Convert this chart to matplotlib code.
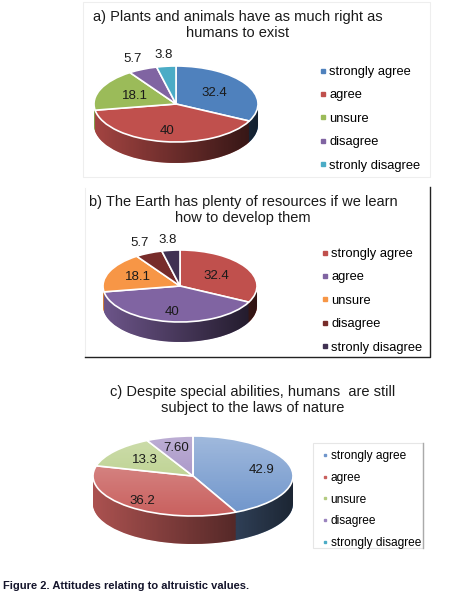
import numpy as np
import matplotlib
matplotlib.use('Agg')
import matplotlib.pyplot as plt
from matplotlib.lines import Line2D
from matplotlib.patches import PathPatch, Ellipse, Rectangle
from matplotlib.path import Path

plt.rcParams['font.family'] = ['Liberation Sans', 'DejaVu Sans']

# ---- data ----
cats_ab = ['strongly agree', 'agree', 'unsure', 'disagree', 'stronly disagree']
vals_a = [32.4, 40, 18.1, 5.7, 3.8]
labels_a = ['32.4', '40', '18.1', '5.7', '3.8']
title_a = 'a) Plants and animals have as much right as\nhumans to exist'

vals_b = [32.4, 40, 18.1, 5.7, 3.8]
labels_b = ['32.4', '40', '18.1', '5.7', '3.8']
title_b = 'b) The Earth has plenty of resources if we learn\nhow to develop them'

cats_c = ['strongly agree', 'agree', 'unsure', 'disagree', 'strongly disagree']
vals_c = [42.9, 36.2, 13.3, 7.60, 0]
labels_c = ['42.9', '36.2', '13.3', '7.60', '']
title_c = 'c) Despite special abilities, humans  are still\nsubject to the laws of nature'

caption = 'Figure 2. Attitudes relating to altruistic values.'

# ---- styles ----
colors_a = ['#4F81BD', '#C0504D', '#9BBB59', '#8064A2', '#4BACC6']
colors_b = ['#C0504D', '#8064A2', '#F79646', '#772C2A', '#403152']
colors_c = ['#6F95CB', '#C9605E', '#B3CB80', '#9A84BE', '#4BACC6']

W, H = 450, 600
fig = plt.figure(figsize=(4.5, 6), dpi=100)
fig.patch.set_facecolor('white')


def px_axes(left, top, w, h):
    return fig.add_axes([left / W, 1 - (top + h) / H, w / W, h / H])


def pie3d(cx, cy, rx, ry, depth, vals, colors, labels, lab_r, top_grad=False):
    d = depth / ry
    pad = 0.04
    ax = px_axes(cx - rx * (1 + pad), cy - ry * (1 + pad), 2 * rx * (1 + pad),
                 ry * (2 + d + 2 * pad))
    # side: stacked layers
    for z in np.linspace(d, 0.0, 40):
        ax.pie(vals, colors=colors, startangle=90, counterclock=False,
               center=(0, -z), radius=1, wedgeprops=dict(linewidth=0))
    # shading of side
    t = np.linspace(np.pi, 2 * np.pi, 100)
    xs = np.concatenate([np.cos(t), np.cos(t[::-1])])
    ys = np.concatenate([np.sin(t) - d, np.sin(t[::-1])])
    side = PathPatch(Path(np.column_stack([xs, ys])), transform=ax.transData,
                     facecolor='none', edgecolor='none')
    ax.add_patch(side)
    grad = np.linspace(0.15, 0.75, 256).reshape(1, -1)
    img = np.zeros((1, 256, 4))
    img[..., 3] = grad
    im = ax.imshow(img, extent=[-1, 1, -1 - d, 0.2], aspect='auto', zorder=3)
    im.set_clip_path(side)
    # top
    wedges, _ = ax.pie(vals, colors=colors, startangle=90, counterclock=False,
                       center=(0, 0), radius=1,
                       wedgeprops=dict(linewidth=1.2, edgecolor='white', zorder=4))
    for w in wedges:
        w.set_zorder(4)
    if top_grad:
        ell = Ellipse((0, 0), 2, 2, transform=ax.transData, facecolor='none',
                      edgecolor='none')
        ax.add_patch(ell)
        g = np.zeros((256, 1, 4))
        g[..., :3] = 1.0
        g[..., 3] = np.linspace(0.0, 0.35, 256).reshape(-1, 1)
        im2 = ax.imshow(g, extent=[-1, 1, 1, -1], aspect='auto', zorder=5)
        im2.set_clip_path(ell)
    for w, lab, r in zip(wedges, labels, lab_r):
        if not lab:
            continue
        mid = np.deg2rad((w.theta1 + w.theta2) / 2)
        ax.text(r * np.cos(mid), r * np.sin(mid), lab, ha='center', va='center',
                fontsize=9.5, color='#1a1a1a', zorder=6)
    ax.set_xlim(-1 - pad, 1 + pad)
    ax.set_ylim(-1 - d - pad, 1 + pad)
    ax.set_aspect('auto')
    ax.axis('off')
    return ax


def legend_at(x, y, cats, colors, ms, spacing, fs=9.3):
    handles = [Line2D([], [], linestyle='none', marker='s', markersize=ms,
                      markerfacecolor=c, markeredgecolor=c) for c in colors]
    fig.legend(handles, cats, loc='upper left', bbox_to_anchor=(x / W, 1 - y / H),
               frameon=False, fontsize=fs, handlelength=0.6, handletextpad=0.2,
               labelspacing=spacing, borderpad=0, borderaxespad=0)


# ---- panel a ----
fig.add_artist(Rectangle((83 / W, 1 - 177 / H), 347 / W, 175 / H, fill=False,
                         edgecolor='#eeeeee', linewidth=0.8, transform=fig.transFigure))
fig.text(238 / W, 1 - 25 / H, title_a, ha='center', va='center', fontsize=10.5,
         linespacing=1.15, color='#1a1a1a')
pie3d(176, 104, 82, 38, 21, vals_a, colors_a, labels_a, [0.55, 0.72, 0.55, 1.3, 1.3])
legend_at(319, 66, cats_ab, colors_a, 3.5, 0.88)

# ---- panel b ----
fig.add_artist(Line2D([85 / W, 85 / W], [1 - 188 / H, 1 - 357 / H], color='#eeeeee',
                      linewidth=0.8, transform=fig.transFigure))
fig.add_artist(Line2D([85 / W, 430 / W, 430 / W], [1 - 357 / H, 1 - 357 / H, 1 - 187 / H],
                      color='#222222', linewidth=1.0, transform=fig.transFigure))
fig.text(243 / W, 1 - 210 / H, title_b, ha='center', va='center', fontsize=10.5,
         linespacing=1.15, color='#1a1a1a')
pie3d(180, 286, 77, 36, 20, vals_b, colors_b, labels_b, [0.55, 0.72, 0.6, 1.3, 1.3])
legend_at(321, 248, cats_ab, colors_b, 3.5, 0.88)

# ---- panel c ----
fig.text(253 / W, 1 - 400 / H, title_c, ha='center', va='center', fontsize=10.5,
         linespacing=1.15, color='#1a1a1a')
pie3d(193, 476, 100, 40, 28, vals_c, colors_c, labels_c, [0.7, 0.8, 0.62, 0.72, 1.0],
      top_grad=True)
fig.add_artist(Rectangle((313 / W, 1 - 548 / H), 110 / W, 105 / H, fill=False,
                         edgecolor='#e6e6e6', linewidth=0.8, transform=fig.transFigure))
fig.add_artist(Line2D([423 / W, 423 / W], [1 - 443 / H, 1 - 548 / H], color='#aaaaaa',
                      linewidth=1.0, transform=fig.transFigure))
legend_at(321, 450, cats_c, colors_c, 1.5, 0.82, fs=8.6)

fig.text(3 / W, 1 - 586 / H, caption, ha='left', va='center', fontsize=8,
         fontweight='bold', color='#14142b')

fig.savefig('out.png', dpi=100)
